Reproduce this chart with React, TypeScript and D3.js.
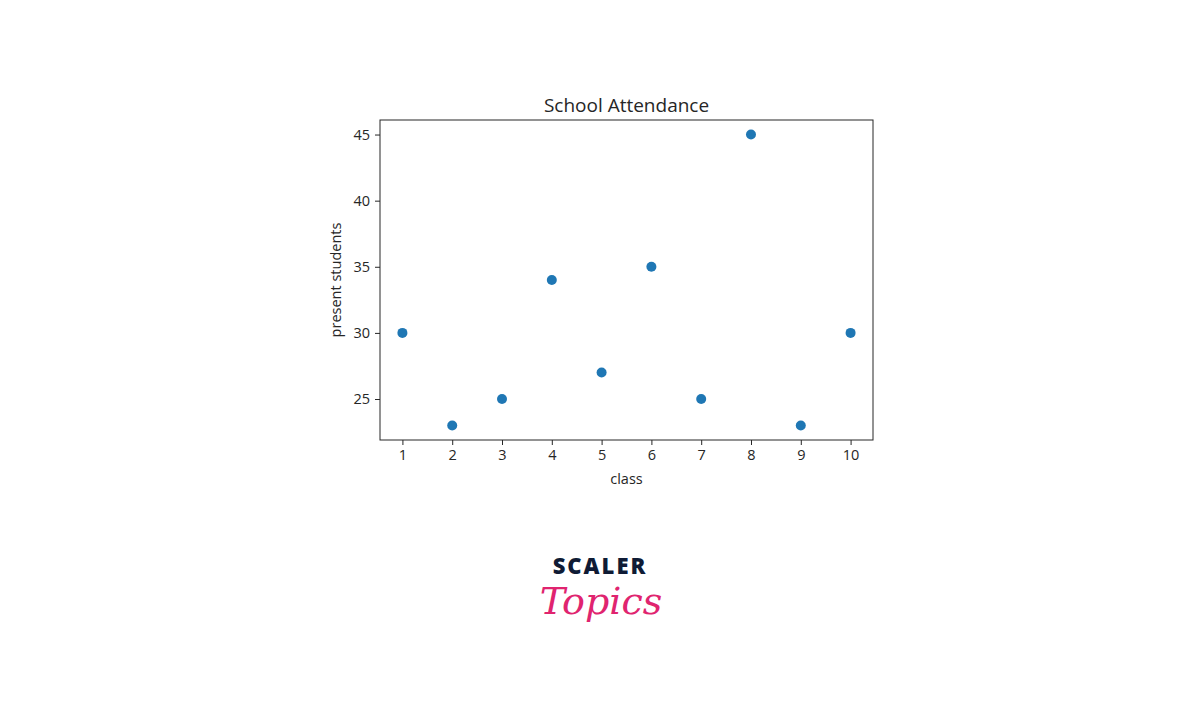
import React, { useRef, useEffect } from "react";
import * as d3 from "d3";

// chart data
const classes = [1, 2, 3, 4, 5, 6, 7, 8, 9, 10];
const presentStudents = [30, 23, 25, 34, 27, 35, 25, 45, 23, 30];
const xTicks = [1, 2, 3, 4, 5, 6, 7, 8, 9, 10];
const yTicks = [25, 30, 35, 40, 45];

const W = 1200;
const H = 706;
const plot = { left: 380, top: 120, right: 873, bottom: 440 };
const textColor = "#262626";
const font = "'Open Sans', sans-serif";

const App = () => {
  const svgRef = useRef<SVGSVGElement>(null);

  useEffect(() => {
    const svg = d3.select(svgRef.current);
    svg.selectAll("*").remove();

    // matplotlib-like 5% margins
    const xMin = d3.min(classes)!;
    const xMax = d3.max(classes)!;
    const yMin = d3.min(presentStudents)!;
    const yMax = d3.max(presentStudents)!;
    const xPad = (xMax - xMin) * 0.05;
    const yPad = (yMax - yMin) * 0.05;

    const x = d3
      .scaleLinear()
      .domain([xMin - xPad, xMax + xPad])
      .range([plot.left, plot.right]);
    const y = d3
      .scaleLinear()
      .domain([yMin - yPad, yMax + yPad])
      .range([plot.bottom, plot.top]);

    svg.append("rect").attr("width", W).attr("height", H).attr("fill", "#fff");

    const xAxis = svg
      .append("g")
      .attr("transform", `translate(0,${plot.bottom})`)
      .call(d3.axisBottom(x).tickValues(xTicks).tickSize(5).tickPadding(5).tickFormat(d3.format("d")));
    const yAxis = svg
      .append("g")
      .attr("transform", `translate(${plot.left},0)`)
      .call(d3.axisLeft(y).tickValues(yTicks).tickSize(5).tickPadding(5).tickFormat(d3.format("d")));

    [xAxis, yAxis].forEach((g) => {
      g.select(".domain").remove();
      g.selectAll(".tick line").attr("stroke", textColor).attr("stroke-width", 1);
      g.selectAll(".tick text")
        .attr("fill", textColor)
        .style("font-family", font)
        .style("font-size", "14.5px");
    });

    // frame
    svg
      .append("rect")
      .attr("x", plot.left)
      .attr("y", plot.top)
      .attr("width", plot.right - plot.left)
      .attr("height", plot.bottom - plot.top)
      .attr("fill", "none")
      .attr("stroke", textColor)
      .attr("stroke-width", 1);

    svg
      .append("g")
      .selectAll("circle")
      .data(classes)
      .join("circle")
      .attr("cx", (d) => x(d))
      .attr("cy", (d, i) => y(presentStudents[i]))
      .attr("r", 5)
      .attr("fill", "#1f77b4");

    svg
      .append("text")
      .attr("x", (plot.left + plot.right) / 2)
      .attr("y", plot.top - 8)
      .attr("text-anchor", "middle")
      .attr("fill", textColor)
      .style("font-family", font)
      .style("font-size", "19px")
      .text("School Attendance");

    svg
      .append("text")
      .attr("x", (plot.left + plot.right) / 2)
      .attr("y", 484)
      .attr("text-anchor", "middle")
      .attr("fill", textColor)
      .style("font-family", font)
      .style("font-size", "14.5px")
      .text("class");

    svg
      .append("text")
      .attr("transform", `translate(341,${(plot.top + plot.bottom) / 2}) rotate(-90)`)
      .attr("text-anchor", "middle")
      .attr("fill", textColor)
      .style("font-family", font)
      .style("font-size", "14.5px")
      .text("present students");

    // logo
    svg
      .append("text")
      .attr("x", 600)
      .attr("y", 574)
      .attr("text-anchor", "middle")
      .attr("fill", "#0f1b35")
      .style("font-family", "'Open Sans', sans-serif")
      .style("font-weight", 800)
      .style("font-size", "22px")
      .style("letter-spacing", "2px")
      .text("SCALER");

    svg
      .append("text")
      .attr("x", 601)
      .attr("y", 614)
      .attr("text-anchor", "middle")
      .attr("fill", "#e0246f")
      .style("font-family", "'DejaVu Serif', serif")
      .style("font-style", "italic")
      .style("font-size", "38px")
      .text("Topics");
  }, []);

  return (
    <div style={{ position: "absolute", left: 0, top: 0 }}>
      <svg ref={svgRef} width={W} height={H}></svg>
    </div>
  );
};

export default App;
